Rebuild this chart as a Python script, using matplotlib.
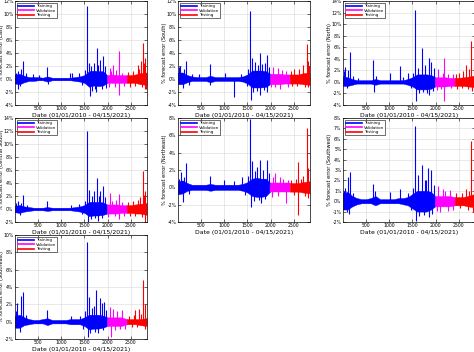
import matplotlib
matplotlib.use("Agg")
import matplotlib.pyplot as plt
from matplotlib.ticker import FuncFormatter

# sample days (index into the 01/01/2010 - 04/15/2021 series)
day = [0, 100, 200, 300, 400, 500, 600, 700, 800, 900, 1000, 1100, 1200, 1300, 1400,
       1500, 1600, 1700, 1800, 1900, 1988, 2100, 2200, 2300, 2414, 2500, 2600, 2700, 2840]
train_end = 1988
valid_end = 2414

regions = ["East", "South", "North", "Central South", "Northeast", "Southwest", "Southeast"]

# upper / lower envelope of the dense daily error band, %
hi_east = [0.7, 0.8, 0.5, 0.3, 0.3, 0.3, 0.2, 0.4, 0.2, 0.2, 0.2, 0.2, 0.2, 0.3, 0.4,
           0.6, 1.2, 1.3, 1.2, 1.2, 0.6, 0.7, 0.6, 0.6, 0.6, 0.6, 0.7, 0.9, 1.0]
lo_east = [-0.7, -0.8, -0.5, -0.3, -0.3, -0.2, -0.2, -0.4, -0.2, -0.2, -0.2, -0.2, -0.2, -0.3, -0.4,
           -0.6, -1.2, -1.0, -1.1, -1.0, -0.6, -0.6, -0.6, -0.6, -0.6, -0.6, -0.6, -0.8, -0.9]
hi_south = [1.0, 1.0, 0.6, 0.4, 0.3, 0.3, 0.3, 0.5, 0.3, 0.3, 0.3, 0.3, 0.3, 0.3, 0.4,
            0.7, 1.3, 1.3, 1.3, 1.2, 0.8, 0.8, 0.8, 0.7, 0.7, 0.7, 0.7, 0.9, 1.0]
lo_south = [-0.8, -0.8, -0.5, -0.3, -0.3, -0.3, -0.3, -0.5, -0.3, -0.3, -0.3, -0.3, -0.3, -0.3, -0.4,
            -0.7, -1.3, -1.3, -1.3, -1.2, -0.8, -0.8, -0.8, -0.7, -0.7, -0.7, -0.7, -0.8, -0.9]
hi_north = [1.0, 0.8, 0.5, 0.3, 0.3, 0.3, 0.3, 0.5, 0.3, 0.3, 0.3, 0.3, 0.3, 0.3, 0.5,
            0.8, 1.3, 1.3, 1.3, 1.2, 0.8, 0.8, 0.8, 0.7, 0.7, 0.7, 0.8, 0.9, 1.1]
lo_north = [-0.7, -0.7, -0.5, -0.3, -0.3, -0.3, -0.3, -0.5, -0.3, -0.3, -0.3, -0.3, -0.3, -0.3, -0.5,
            -0.8, -1.3, -1.3, -1.3, -1.2, -0.8, -0.8, -0.8, -0.7, -0.7, -0.7, -0.7, -0.8, -0.9]
hi_csouth = [0.5, 0.6, 0.4, 0.3, 0.2, 0.2, 0.2, 0.3, 0.2, 0.2, 0.2, 0.2, 0.2, 0.3, 0.4,
             0.6, 1.1, 1.1, 1.1, 1.0, 0.7, 0.7, 0.7, 0.6, 0.6, 0.6, 0.7, 0.8, 0.9]
lo_csouth = [-0.5, -0.6, -0.4, -0.3, -0.2, -0.2, -0.2, -0.3, -0.2, -0.2, -0.2, -0.2, -0.2, -0.3, -0.4,
             -0.6, -1.1, -1.0, -1.0, -0.9, -0.7, -0.7, -0.7, -0.6, -0.6, -0.6, -0.7, -0.7, -0.9]
hi_neast = [0.7, 0.8, 0.5, 0.3, 0.3, 0.3, 0.3, 0.4, 0.3, 0.3, 0.3, 0.3, 0.3, 0.3, 0.4,
            0.6, 1.0, 1.1, 1.0, 1.0, 0.5, 0.5, 0.5, 0.5, 0.5, 0.5, 0.5, 0.6, 0.7]
lo_neast = [-0.8, -0.7, -0.4, -0.3, -0.3, -0.3, -0.3, -0.4, -0.3, -0.3, -0.3, -0.3, -0.3, -0.3, -0.4,
            -0.6, -1.0, -1.1, -1.1, -1.0, -0.5, -0.5, -0.5, -0.5, -0.5, -0.5, -0.5, -0.6, -0.7]
hi_swest = [0.8, 0.9, 0.5, 0.3, 0.2, 0.2, 0.3, 0.5, 0.2, 0.2, 0.2, 0.2, 0.3, 0.3, 0.4,
            0.7, 1.0, 1.0, 1.0, 0.9, 0.5, 0.5, 0.5, 0.5, 0.4, 0.4, 0.4, 0.5, 0.7]
lo_swest = [-0.8, -0.8, -0.5, -0.3, -0.2, -0.2, -0.2, -0.4, -0.2, -0.2, -0.2, -0.2, -0.2, -0.3, -0.4,
            -0.7, -1.0, -1.0, -1.0, -0.8, -0.5, -0.5, -0.5, -0.5, -0.4, -0.4, -0.4, -0.5, -0.6]
hi_seast = [0.7, 0.8, 0.5, 0.3, 0.2, 0.2, 0.3, 0.4, 0.2, 0.2, 0.2, 0.2, 0.3, 0.3, 0.3,
            0.5, 0.8, 0.8, 0.8, 0.7, 0.5, 0.5, 0.5, 0.5, 0.3, 0.3, 0.3, 0.3, 0.4]
lo_seast = [-0.7, -0.7, -0.4, -0.3, -0.2, -0.2, -0.2, -0.4, -0.2, -0.2, -0.2, -0.2, -0.3, -0.3, -0.3,
            -0.5, -0.9, -0.8, -0.8, -0.7, -0.5, -0.5, -0.5, -0.5, -0.3, -0.3, -0.3, -0.4, -0.5]

# single-day spikes: (day, % error)
spk_east = [(20, 1.0), (60, -1.5), (70, 1.2), (110, -1.1), (140, 1.5), (180, 2.8), (240, 0.9),
            (380, 0.7), (520, 0.6), (690, 1.8), (720, -0.7), (1190, 1.0), (1230, 0.9), (1380, 0.9),
            (1450, -0.9), (1520, 1.4), (1560, 11.3), (1600, 2.5), (1620, -2.6), (1640, 2.0),
            (1660, -1.8), (1700, 2.4), (1730, -1.6), (1750, -2.0), (1770, 4.8), (1800, 2.2),
            (1840, 3.0), (1870, -1.5), (1910, 3.5), (1950, 2.0), (1960, -1.4), (2020, -1.3),
            (2050, 1.7), (2080, 1.3), (2110, 2.2), (2150, -1.2), (2180, 1.4), (2237, 4.3),
            (2240, -2.4), (2300, 1.0), (2350, -1.0), (2450, 1.1), (2480, -1.2), (2550, 1.3),
            (2600, -1.0), (2650, 2.2), (2680, 1.6), (2720, 2.8), (2740, -1.3), (2763, 5.5),
            (2790, 2.4), (2815, 3.2), (2815, -1.6), (2830, -1.5)]
spk_south = [(20, 1.8), (50, 2.0), (100, -1.4), (130, 1.6), (180, 2.7), (230, -0.9), (300, 0.8),
             (450, 0.7), (700, 2.3), (700, -0.9), (1020, 1.0), (1205, -2.8), (1350, 0.8),
             (1480, -1.0), (1520, 1.5), (1560, 10.5), (1575, -3.2), (1590, 3.2), (1620, -2.0),
             (1660, 2.6), (1700, -1.8), (1720, 2.2), (1767, 4.0), (1770, -2.5), (1820, 2.3),
             (1850, -1.7), (1880, 2.5), (1920, -2.0), (1926, 3.7), (1970, 1.8), (2000, -1.3),
             (2050, 1.8), (2100, -1.2), (2150, 1.7), (2200, -1.5), (2250, 1.4), (2330, 1.2),
             (2380, -1.2), (2440, 1.3), (2470, -1.1), (2500, 1.6), (2560, -1.0), (2620, 1.5),
             (2700, 2.2), (2740, -1.2), (2778, 5.4), (2800, -1.3), (2815, 2.7), (2835, 2.0)]
spk_north = [(30, 1.8), (50, 2.5), (90, -1.0), (110, 2.0), (160, 5.1), (210, 1.0), (320, 0.7),
             (655, 3.8), (680, -1.8), (720, 1.0), (1020, 1.5), (1240, 2.7), (1300, 0.9),
             (1400, 1.5), (1460, -1.0), (1520, 1.6), (1560, 12.5), (1580, -3.3), (1610, 2.4),
             (1640, -2.0), (1700, 5.8), (1730, -1.8), (1780, 3.0), (1810, -1.9), (1850, 4.2),
             (1850, -2.2), (1900, 3.4), (1940, -1.6), (1970, 2.4), (2020, -1.4), (2060, 2.3),
             (2120, -1.3), (2150, 1.6), (2190, 4.2), (2190, -3.3), (2260, 1.4), (2330, -1.1),
             (2370, 1.3), (2440, 1.4), (2470, -1.2), (2500, 1.5), (2560, -1.1), (2600, 1.8),
             (2650, 3.0), (2700, -1.3), (2730, 2.2), (2760, 7.0), (2790, -1.5), (2820, 3.5)]
spk_csouth = [(20, 0.9), (70, 1.2), (100, -0.9), (140, 1.0), (180, 2.2), (260, 0.6), (690, 1.2),
              (1200, 0.6), (1380, 0.8), (1450, -0.8), (1520, 1.2), (1560, 12.0), (1570, -2.0),
              (1600, 3.0), (1640, -1.6), (1660, 2.0), (1700, 2.8), (1730, -1.4), (1770, 4.8),
              (1800, -1.8), (1820, 2.0), (1840, 2.8), (1880, -1.4), (1910, 3.5), (1950, 1.8),
              (2000, -1.2), (2050, 2.5), (2100, 1.3), (2150, -1.1), (2180, 1.4), (2237, 2.3),
              (2240, -1.6), (2300, 1.1), (2360, -1.0), (2450, 1.1), (2480, -1.0), (2550, 1.2),
              (2600, -1.0), (2650, 1.4), (2700, 1.8), (2740, -1.2), (2763, 5.8), (2790, 2.2),
              (2815, 2.8), (2815, -2.0)]
spk_neast = [(30, 1.0), (70, 1.8), (100, -1.7), (140, 1.2), (180, 2.8), (240, -0.8), (700, 1.3),
             (1000, 0.9), (1200, 0.7), (1380, 1.2), (1450, -0.9), (1520, 1.3), (1560, 7.9),
             (1575, -2.3), (1600, 3.0), (1640, -1.6), (1660, 1.9), (1700, 2.3), (1740, -1.5),
             (1770, 3.2), (1800, -1.8), (1840, 2.0), (1880, -1.4), (1926, 3.1), (1960, 1.6),
             (2020, -1.1), (2060, 1.2), (2100, 1.7), (2150, -1.0), (2200, 1.2), (2260, 1.0),
             (2340, -1.8), (2380, 0.9), (2450, 0.9), (2500, -0.9), (2540, 1.0), (2590, 2.9),
             (2595, -3.2), (2650, 1.0), (2700, 1.3), (2740, -1.0), (2780, 6.8), (2800, -1.2),
             (2815, 2.2)]
spk_swest = [(30, 1.0), (50, 1.3), (80, -1.0), (110, 2.3), (120, -1.2), (160, 2.8), (220, 0.8),
             (655, 1.7), (700, 1.0), (1020, 0.9), (1240, 1.2), (1400, 0.8), (1460, -0.8),
             (1520, 1.3), (1560, 7.2), (1570, -1.9), (1620, 2.5), (1650, -1.4), (1700, 3.5),
             (1740, -1.3), (1760, 2.0), (1800, 2.0), (1840, 3.2), (1850, -1.5), (1890, 3.0),
             (1930, -1.2), (1960, 1.6), (2020, -0.9), (2050, 1.5), (2100, -1.0), (2150, 1.2),
             (2200, 1.0), (2260, -0.9), (2320, 1.1), (2380, -0.8), (2450, 0.8), (2520, -0.7),
             (2580, 0.8), (2650, 1.2), (2700, -0.8), (2730, 1.0), (2760, 5.8), (2800, -1.0),
             (2820, 2.3)]
spk_seast = [(20, 1.2), (50, 2.2), (100, -1.2), (130, 3.0), (180, 3.4), (230, 0.8), (690, 1.3),
             (1200, 0.6), (1400, 0.7), (1460, -0.8), (1520, 1.2), (1560, 9.2), (1570, -1.8),
             (1590, 2.8), (1630, -1.3), (1660, 1.6), (1700, 1.8), (1730, -1.2), (1750, 3.7),
             (1800, -1.3), (1840, 2.7), (1870, 2.2), (1900, -1.0), (1926, 2.3), (1960, 1.3),
             (2050, 1.7), (2080, -1.8), (2120, 1.5), (2160, -1.0), (2200, 1.2), (2260, -0.9),
             (2300, 1.3), (2370, -0.8), (2460, 0.7), (2520, -0.6), (2560, 0.8), (2600, 1.3),
             (2640, -0.6), (2680, 1.5), (2720, 0.9), (2760, 4.8), (2800, -0.8), (2815, 2.0)]

his = [hi_east, hi_south, hi_north, hi_csouth, hi_neast, hi_swest, hi_seast]
los = [lo_east, lo_south, lo_north, lo_csouth, lo_neast, lo_swest, lo_seast]
spikes = [spk_east, spk_south, spk_north, spk_csouth, spk_neast, spk_swest, spk_seast]
ylims = [(-4, 12), (-4, 12), (-4, 14), (-2, 14), (-4, 8), (-2, 8), (-2, 10)]
ysteps = [2, 2, 2, 2, 2, 1, 2]

colors = {"Training": (0, 0, 1), "Validation": (1, 0, 1), "Testing": (1, 0, 0)}


def segColor(d):
    if d <= train_end:
        return colors["Training"]
    if d <= valid_end:
        return colors["Validation"]
    return colors["Testing"]


W, H = 474, 352
fig = plt.figure(figsize=(W / 100, H / 100), dpi=100)

lefts = [15, 178, 343]
rows = [(1, 105), (118, 222), (235, 339)]
axw = 132

i1 = day.index(train_end)
i2 = day.index(valid_end)
segments = [("Training", 0, i1), ("Validation", i1, i2), ("Testing", i2, len(day) - 1)]

for k in range(7):
    r, c = k // 3, k % 3
    top, bot = rows[r]
    ax = fig.add_axes([lefts[c] / W, (H - bot) / H, axw / W, (bot - top) / H])

    for name, a, b in segments:
        col = colors[name]
        ax.fill_between(day[a:b + 1], los[k][a:b + 1], his[k][a:b + 1], color=col,
                        linewidth=0.3, edgecolor=col)
        ax.plot([], [], color=col, lw=1.2, label=name)

    for d, v in spikes[k]:
        ax.vlines(d, 0, v, color=segColor(d), linewidth=0.8)

    ax.set_xlim(0, 2850)
    ax.set_ylim(*ylims[k])
    ax.set_xticks([500, 1000, 1500, 2000, 2500])
    lo_y, hi_y = ylims[k]
    ax.set_yticks(list(range(lo_y, hi_y + 1, ysteps[k])))
    ax.yaxis.set_major_formatter(FuncFormatter(lambda v, p: "%d%%" % v))
    ax.tick_params(direction="in", length=2, width=0.4, labelsize=3.3, pad=1.0,
                   top=True, right=True)
    ax.grid(True, color="#d9d9d9", linewidth=0.4)
    ax.set_axisbelow(True)
    for s in ax.spines.values():
        s.set_linewidth(0.5)
    ax.set_xlabel("Date (01/01/2010 - 04/15/2021)", fontsize=4.4, labelpad=1)
    ax.set_ylabel("% forecast error (" + regions[k] + ")", fontsize=3.6)
    ax.yaxis.set_label_coords(-0.083, 0.5)
    leg = ax.legend(loc="upper left", fontsize=2.9, handlelength=3.8, borderpad=0.3,
                    labelspacing=0.1, fancybox=False, framealpha=1, borderaxespad=0.5,
                    handletextpad=0.5)
    leg.get_frame().set_edgecolor("black")
    leg.get_frame().set_linewidth(0.4)

fig.savefig("out.png", dpi=100)
